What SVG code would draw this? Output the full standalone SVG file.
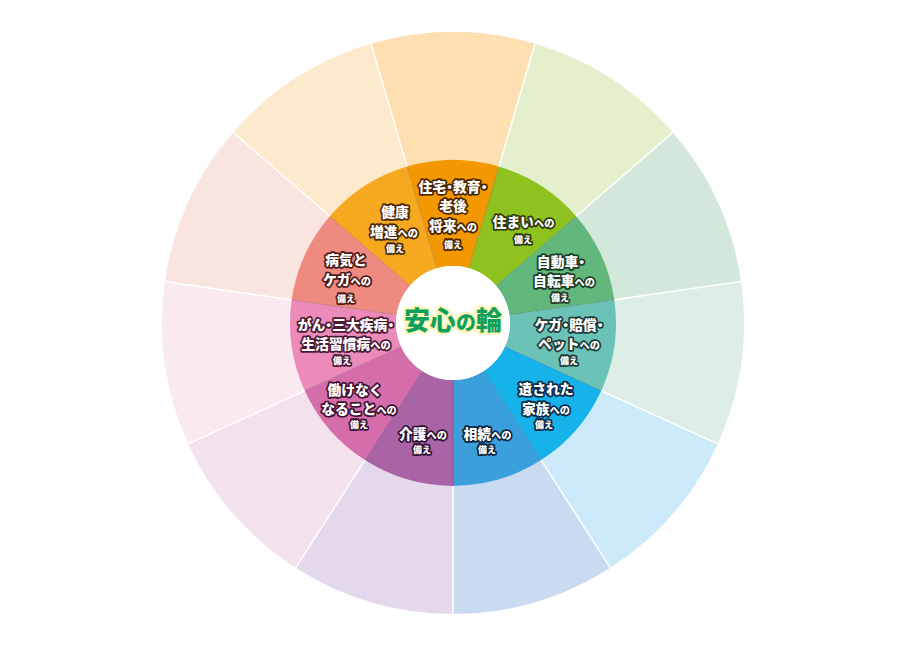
<svg xmlns="http://www.w3.org/2000/svg" width="906" height="650" viewBox="0 0 906 650">
<style>
.lb{font-family:"Noto Sans CJK JP","Noto Sans",sans-serif;font-weight:900;fill:#fff;stroke-width:3.4;stroke-linejoin:round;paint-order:stroke;text-anchor:middle}
.b{font-size:13.8px}
.s{font-size:10.2px}
.n{font-size:9px}
.d{font-feature-settings:"palt"}
.dv{stroke:#fff;stroke-width:1.5;fill:none}
.di{stroke:#000;stroke-opacity:0.22;stroke-width:0.8;fill:none}
.ctr{font-family:"Noto Sans CJK JP","Noto Sans",sans-serif;font-weight:900;fill:#0FA05E;stroke:#FFF6B8;stroke-width:4.5;stroke-linejoin:round;paint-order:stroke;text-anchor:middle}
</style>
<rect width="906" height="650" fill="#fff"/>

<g id="seg-jutaku">
<path d="M371.02,43.79 A291,291 0 0 1 534.98,43.79 L498.92,166.60 A163,163 0 0 0 407.08,166.60 Z" fill="#FDDFB1"/>
<path d="M407.08,166.60 A163,163 0 0 1 498.92,166.60 L469.06,268.31 A57,57 0 0 0 436.94,268.31 Z" fill="#F39800"/>
<g class="lb" stroke="#4A2500">
<text class="b" x="453" y="192">住宅<tspan class="d">・</tspan>教育<tspan class="d">・</tspan></text>
<text class="b" x="453" y="211">老後</text>
<text x="453" y="231"><tspan class="b">将来</tspan><tspan class="s">への</tspan></text>
<text class="n" x="453" y="248">備え</text>
</g>
</g>

<g id="seg-sumai">
<path d="M534.98,43.79 A291,291 0 0 1 672.92,132.44 L576.19,216.26 A163,163 0 0 0 498.92,166.60 Z" fill="#E4EFCE"/>
<path d="M498.92,166.60 A163,163 0 0 1 576.19,216.26 L496.08,285.67 A57,57 0 0 0 469.06,268.31 Z" fill="#8DC21F"/>
<g class="lb" stroke="#2E3A0E">
<text x="523.5" y="227"><tspan class="b">住まい</tspan><tspan class="s">への</tspan></text>
<text class="n" x="523" y="242.5">備え</text>
</g>
</g>

<g id="seg-jidosha">
<path d="M672.92,132.44 A291,291 0 0 1 741.04,281.59 L614.34,299.80 A163,163 0 0 0 576.19,216.26 Z" fill="#D3E8DA"/>
<path d="M576.19,216.26 A163,163 0 0 1 614.34,299.80 L509.42,314.89 A57,57 0 0 0 496.08,285.67 Z" fill="#62B77C"/>
<g class="lb" stroke="#1E3A28">
<text class="b" x="561" y="267">自動車<tspan class="d">・</tspan></text>
<text x="564" y="286"><tspan class="b">自転車</tspan><tspan class="s">への</tspan></text>
<text class="n" x="560" y="301">備え</text>
</g>
</g>

<g id="seg-kega-baisho">
<path d="M741.04,281.59 A291,291 0 0 1 717.70,443.89 L601.27,390.71 A163,163 0 0 0 614.34,299.80 Z" fill="#DCEEE6"/>
<path d="M614.34,299.80 A163,163 0 0 1 601.27,390.71 L504.85,346.68 A57,57 0 0 0 509.42,314.89 Z" fill="#6BC3B8"/>
<g class="lb" stroke="#1E3A3A">
<text class="b" x="569" y="329.5">ケガ<tspan class="d">・</tspan>賠償<tspan class="d">・</tspan></text>
<text x="569" y="348.5"><tspan class="b">ペット</tspan><tspan class="s">への</tspan></text>
<text class="n" x="569" y="364">備え</text>
</g>
</g>

<g id="seg-izoku">
<path d="M717.70,443.89 A291,291 0 0 1 610.33,567.80 L541.12,460.12 A163,163 0 0 0 601.27,390.71 Z" fill="#CCEAFA"/>
<path d="M601.27,390.71 A163,163 0 0 1 541.12,460.12 L483.82,370.95 A57,57 0 0 0 504.85,346.68 Z" fill="#16B3EA"/>
<g class="lb" stroke="#0A2A45">
<text class="b" x="546" y="393.5">遺された</text>
<text x="546" y="413.5"><tspan class="b">家族</tspan><tspan class="s">への</tspan></text>
<text class="n" x="544" y="428">備え</text>
</g>
</g>

<g id="seg-sozoku">
<path d="M610.33,567.80 A291,291 0 0 1 453,614 L453,486 A163,163 0 0 0 541.12,460.12 Z" fill="#CADAF0"/>
<path d="M541.12,460.12 A163,163 0 0 1 453,486 L453,380 A57,57 0 0 0 483.82,370.95 Z" fill="#3A9FDB"/>
<g class="lb" stroke="#0B2440">
<text x="487.5" y="438.5"><tspan class="b">相続</tspan><tspan class="s">への</tspan></text>
<text class="n" x="487" y="453">備え</text>
</g>
</g>

<g id="seg-kaigo">
<path d="M453,614 A291,291 0 0 1 295.67,567.80 L364.88,460.12 A163,163 0 0 0 453,486 Z" fill="#E4D9EC"/>
<path d="M453,486 A163,163 0 0 1 364.88,460.12 L422.18,370.95 A57,57 0 0 0 453,380 Z" fill="#AA63A5"/>
<g class="lb" stroke="#2E1030">
<text x="423" y="438.5"><tspan class="b">介護</tspan><tspan class="s">への</tspan></text>
<text class="n" x="422" y="453">備え</text>
</g>
</g>

<g id="seg-hatarakenaku">
<path d="M295.67,567.80 A291,291 0 0 1 188.30,443.89 L304.73,390.71 A163,163 0 0 0 364.88,460.12 Z" fill="#F4E1EE"/>
<path d="M364.88,460.12 A163,163 0 0 1 304.73,390.71 L401.15,346.68 A57,57 0 0 0 422.18,370.95 Z" fill="#D56DAB"/>
<g class="lb" stroke="#3E1030">
<text class="b" x="355" y="394.5">働けなく</text>
<text x="359" y="413.5"><tspan class="b">なること</tspan><tspan class="s">への</tspan></text>
<text class="n" x="359" y="428">備え</text>
</g>
</g>

<g id="seg-gan">
<path d="M188.30,443.89 A291,291 0 0 1 164.96,281.59 L291.66,299.80 A163,163 0 0 0 304.73,390.71 Z" fill="#FBE9F2"/>
<path d="M304.73,390.71 A163,163 0 0 1 291.66,299.80 L396.58,314.89 A57,57 0 0 0 401.15,346.68 Z" fill="#EC8ABA"/>
<g class="lb" stroke="#4A1A35">
<text class="b" x="346" y="330">がん<tspan class="d">・</tspan>三大疾病<tspan class="d">・</tspan></text>
<text x="346" y="348.5"><tspan class="b">生活習慣病</tspan><tspan class="s">への</tspan></text>
<text class="n" x="342" y="364">備え</text>
</g>
</g>

<g id="seg-byoki">
<path d="M164.96,281.59 A291,291 0 0 1 233.08,132.44 L329.81,216.26 A163,163 0 0 0 291.66,299.80 Z" fill="#FAE4E0"/>
<path d="M291.66,299.80 A163,163 0 0 1 329.81,216.26 L409.92,285.67 A57,57 0 0 0 396.58,314.89 Z" fill="#EE8A80"/>
<g class="lb" stroke="#4A1A18">
<text class="b" x="346" y="265">病気と</text>
<text x="347" y="285"><tspan class="b">ケガ</tspan><tspan class="s">への</tspan></text>
<text class="n" x="346" y="301.5">備え</text>
</g>
</g>

<g id="seg-kenko">
<path d="M233.08,132.44 A291,291 0 0 1 371.02,43.79 L407.08,166.60 A163,163 0 0 0 329.81,216.26 Z" fill="#FDEACD"/>
<path d="M329.81,216.26 A163,163 0 0 1 407.08,166.60 L436.94,268.31 A57,57 0 0 0 409.92,285.67 Z" fill="#F6A81F"/>
<g class="lb" stroke="#4A2A08">
<text class="b" x="395" y="217">健康</text>
<text x="394" y="237"><tspan class="b">増進</tspan><tspan class="s">への</tspan></text>
<text class="n" x="395" y="251.5">備え</text>
</g>
</g>

<g id="dividers">
<path class="dv" d="M498.92,166.60 L534.98,43.79 M576.19,216.26 L672.92,132.44 M614.34,299.80 L741.04,281.59 M601.27,390.71 L717.70,443.89 M541.12,460.12 L610.33,567.80 M453,486 L453,614 M364.88,460.12 L295.67,567.80 M304.73,390.71 L188.30,443.89 M291.66,299.80 L164.96,281.59 M329.81,216.26 L233.08,132.44 M407.08,166.60 L371.02,43.79"/>
<path class="di" d="M469.06,268.31 L498.92,166.60 M496.08,285.67 L576.19,216.26 M509.42,314.89 L614.34,299.80 M504.85,346.68 L601.27,390.71 M483.82,370.95 L541.12,460.12 M453,380 L453,486 M422.18,370.95 L364.88,460.12 M401.15,346.68 L304.73,390.71 M396.58,314.89 L291.66,299.80 M409.92,285.67 L329.81,216.26 M436.94,268.31 L407.08,166.60"/>
</g>

<g id="center">
<circle cx="453" cy="323" r="57" fill="#fff"/>
<text class="ctr" x="453" y="330"><tspan font-size="26">安心</tspan><tspan font-size="20">の</tspan><tspan font-size="26">輪</tspan></text>
</g>
</svg>
